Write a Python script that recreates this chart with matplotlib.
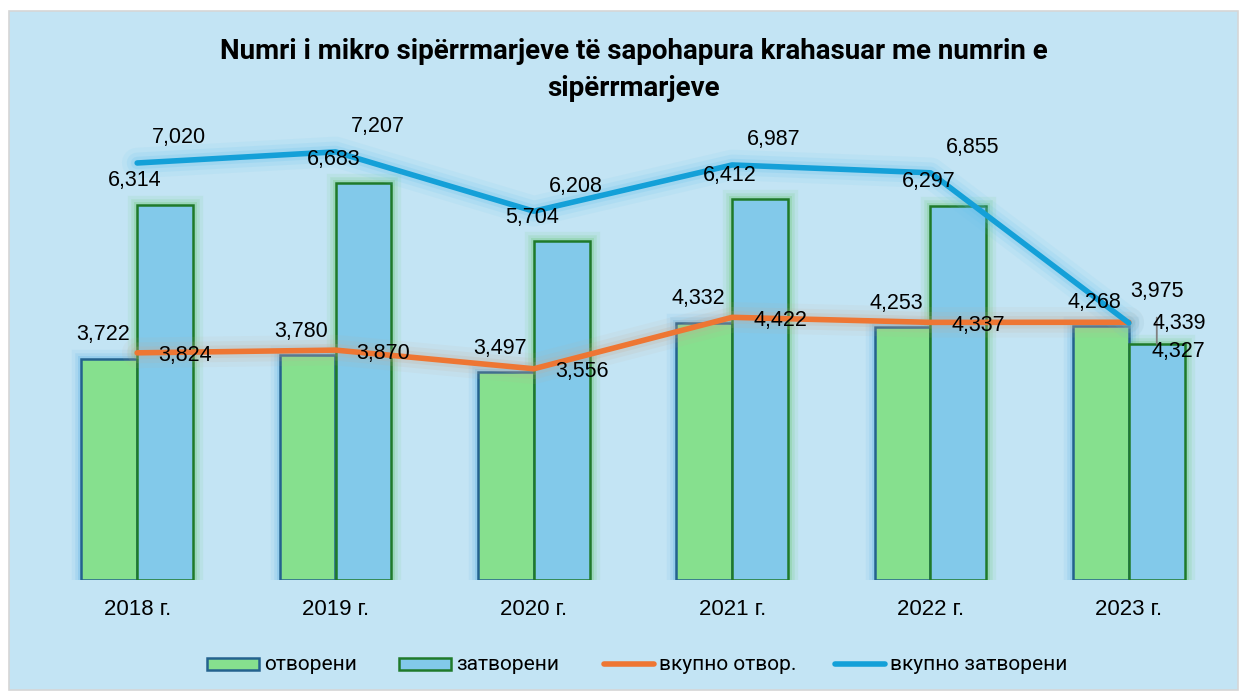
import numpy as np
import matplotlib.pyplot as plt
from matplotlib.patches import Rectangle
from matplotlib.lines import Line2D

years = ["2018 г.", "2019 г.", "2020 г.", "2021 г.", "2022 г.", "2023 г."]
opened = [3722, 3780, 3497, 4332, 4253, 4268]
closed = [6314, 6683, 5704, 6412, 6297, 3975]
total_opened = [3824, 3870, 3556, 4422, 4337, 4339]
total_closed = [7020, 7207, 6208, 6987, 6855, 4327]

title = "Numri i mikro sipërrmarjeve të sapohapura krahasuar me numrin e\nsipërrmarjeve"
legend_labels = ["отворени", "затворени", "вкупно отвор.", "вкупно затворени"]

BG = "#c3e4f4"
GREEN = "#86e08e"
BLUE = "#82c9ea"
ORANGE = "#ee7633"
LINE_BLUE = "#14a0d8"

plt.rcParams['font.family'] = ['Liberation Sans', 'DejaVu Sans']

fig = plt.figure(figsize=(12.46, 6.96), dpi=100)
fig.patch.set_facecolor("white")
fig.add_artist(Rectangle((9 / 1246, 1 - 690 / 696), 1229 / 1246, 679 / 696,
                         transform=fig.transFigure, facecolor=BG,
                         edgecolor="#d6d6d6", linewidth=1.2, zorder=0))

ax = fig.add_axes([38 / 1246, 1 - 580 / 696, 1190 / 1246, 470 / 696])
ax.set_facecolor("none")
ax.set_xlim(-0.5, 5.5)
ax.set_ylim(0, 7912)

x = np.arange(len(years))
w = 0.282

# glow behind bars
for lw, a in [(14, 0.08), (9, 0.12), (5, 0.18)]:
    ax.bar(x - w / 2, opened, w, facecolor="none", edgecolor="#3aa0e0",
           linewidth=lw, alpha=a, zorder=1)
    ax.bar(x + w / 2, closed, w, facecolor="none", edgecolor="#4cc04a",
           linewidth=lw, alpha=a, zorder=1)

ax.bar(x - w / 2, opened, w, color=GREEN, edgecolor="#24628e", linewidth=1.8, zorder=2)
ax.bar(x + w / 2, closed, w, color=BLUE, edgecolor="#1f7a2a", linewidth=1.8, zorder=2)

# glow behind lines
for lw, a in [(22, 0.08), (15, 0.12), (9, 0.18)]:
    ax.plot(x, total_opened, color="#c8a890", linewidth=lw, alpha=a,
            solid_capstyle="round", zorder=3)
    ax.plot(x, total_closed, color="#5cc0ec", linewidth=lw, alpha=a,
            solid_capstyle="round", zorder=3)
ax.plot(x, total_opened, color=ORANGE, linewidth=4, solid_capstyle="round", zorder=4)
ax.plot(x, total_closed, color=LINE_BLUE, linewidth=4, solid_capstyle="round", zorder=4)

fs = 15.5
for i in range(len(years)):
    ax.annotate(f"{opened[i]:,}", (x[i] - w / 2, opened[i]), xytext=(-6, 24),
                textcoords="offset pixels", ha="center", va="center", fontsize=fs, zorder=6)
    if i < 5:
        ax.annotate(f"{closed[i]:,}", (x[i] + w / 2, closed[i]), xytext=(-30, 24),
                    textcoords="offset pixels", ha="center", va="center", fontsize=fs, zorder=6)
        ax.annotate(f"{total_opened[i]:,}", (x[i], total_opened[i]), xytext=(48, -3),
                    textcoords="offset pixels", ha="center", va="center", fontsize=fs, zorder=6)
        ax.annotate(f"{total_closed[i]:,}", (x[i], total_closed[i]), xytext=(42, 25),
                    textcoords="offset pixels", ha="center", va="center", fontsize=fs, zorder=6)

# 2023 labels are crowded
ax.annotate(f"{closed[5]:,}", (x[5] + w / 2, closed[5]), xytext=(0, 52),
            textcoords="offset pixels", ha="center", va="center", fontsize=fs, zorder=6,
            arrowprops=dict(arrowstyle="-", color="#808080", lw=1.3, shrinkA=9, shrinkB=0))
ax.annotate(f"{total_opened[5]:,}", (x[5], total_opened[5]), xytext=(50, -1),
            textcoords="offset pixels", ha="center", va="center", fontsize=fs, zorder=6)
ax.annotate(f"{total_closed[5]:,}", (x[5], total_closed[5]), xytext=(50, -29),
            textcoords="offset pixels", ha="center", va="center", fontsize=fs, zorder=6)

ax.set_xticks(x)
ax.set_xticklabels(years, fontsize=16)
ax.tick_params(axis="x", length=0, pad=14)
ax.set_yticks([])
for s in ax.spines.values():
    s.set_visible(False)

fig.text(634 / 1246, 1 - 70 / 696, title, ha="center", va="center", fontsize=20,
         fontweight="bold", family=["Roboto", "DejaVu Sans"], linespacing=1.45)

# legend drawn item by item
W, H = 1246, 696
leg_y = 664
leg_x = [207, 399, 602, 833]
for k, (lx, lab) in enumerate(zip(leg_x, legend_labels)):
    if k < 2:
        fc, ec = (GREEN, "#24628e") if k == 0 else (BLUE, "#1f7a2a")
        fig.add_artist(Rectangle((lx / W, 1 - (leg_y + 6) / H), 52 / W, 12 / H,
                                 transform=fig.transFigure, facecolor=fc,
                                 edgecolor=ec, linewidth=1.8))
    else:
        col = ORANGE if k == 2 else LINE_BLUE
        fig.add_artist(Line2D([(lx + 2) / W, (lx + 52) / W], [1 - leg_y / H, 1 - leg_y / H],
                              transform=fig.transFigure, color=col, linewidth=4,
                              solid_capstyle="round"))
    fig.text((lx + 57) / W, 1 - leg_y / H, lab, ha="left", va="center",
             family=["Roboto", "DejaVu Sans"], fontsize=15)

fig.savefig("out.png", dpi=100)
